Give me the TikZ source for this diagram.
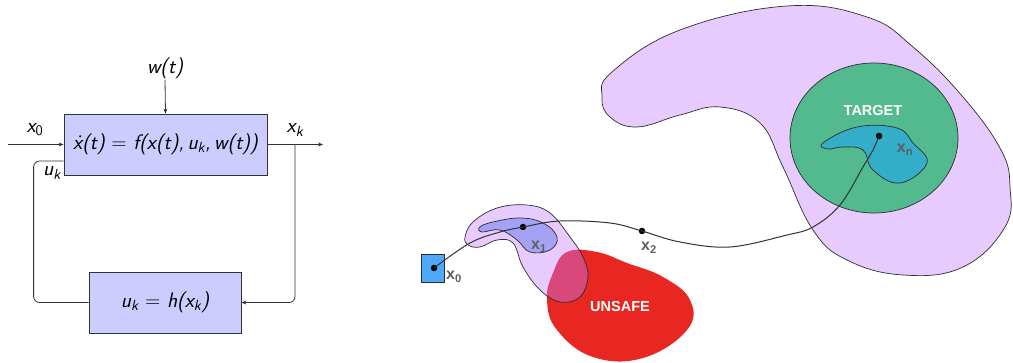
\documentclass[tikz,border=0pt]{standalone}
\usepackage{fontspec}
\newfontfamily\helv{Liberation Sans}
\usetikzlibrary{arrows.meta,calc}
\definecolor{boxfill}{RGB}{204,204,255}
\definecolor{wirec}{RGB}{50,50,50}
\definecolor{lav}{RGB}{195,125,255}
\definecolor{tgreen}{RGB}{82,186,142}
\definecolor{teal2}{RGB}{52,173,200}
\definecolor{ured}{RGB}{232,38,34}
\definecolor{sqblue}{RGB}{80,168,252}
\definecolor{innerblue}{RGB}{110,130,240}
\definecolor{labgray}{RGB}{95,95,95}
\definecolor{outl}{RGB}{45,45,45}
\newcommand\sub[1]{\textsubscript{#1}}
\begin{document}
\begin{tikzpicture}[x=1pt,y=-1pt,
  block/.style={draw=wirec, fill=boxfill, line width=0.8pt, minimum width=203pt, minimum height=61pt, inner sep=0pt, font=\sffamily\slshape\fontsize{21}{24}\selectfont},
  lbl/.style={inner sep=1pt, font=\sffamily\slshape\fontsize{21}{24}\selectfont},
  wire/.style={draw=wirec, line width=0.8pt},
  arr/.style={wire, -{Stealth[length=5pt,width=4pt]}},
  blob/.style={draw=outl, line width=0.7pt, fill=lav, fill opacity=0.4},
  shapeline/.style={draw=outl, line width=0.7pt},
  traj/.style={draw=wirec, line width=1pt},
  dot/.style={circle, fill=black, inner sep=0pt, minimum size=6.5pt},
  ptlab/.style={font=\helv\bfseries\fontsize{16}{16}\selectfont, text=labgray, inner sep=0pt},
  biglab/.style={font=\helv\bfseries\fontsize{14.5}{15}\selectfont, text=white, inner sep=0pt}
]
\useasboundingbox (0,0) rectangle (1013,363);

% ---------- left: block diagram ----------
\node[block] (fbox) at (165.5,144.5) {\.x(t) {\upshape=} f(x(t),\,u\sub{k},\,w(t))};
\node[block, minimum width=152pt] (hbox) at (165,302.5) {u\sub{k} {\upshape=} h(x\sub{k})};
\node[lbl] (wlbl) at (165,68) {w(t)};
\draw[arr] (wlbl.south) -- (fbox.north);
\node[lbl] (x0lbl) at (35,130) {x\sub{\upshape0}};
\coordinate (in) at (8,144.5);
\draw[arr] (in) -- (fbox.west);
\coordinate (out) at (323,144.5);
\draw[arr] (fbox.east) -- (out);
\node[lbl] (xklbl) at (295,130) {x\sub{k}};
\coordinate (split) at (295,144.5);
\draw[arr, rounded corners=6pt] (split) |- (hbox.east);
\coordinate (uin) at ([yshift=-16.5pt]fbox.west);
\draw[wire, rounded corners=6pt] (hbox.west) -| ([xshift=-30pt]uin) -- (uin);
\node[lbl] (uklbl) at (52,173) {u\sub{k}};

% ---------- right: reachability sketch ----------
\path[blob] plot[smooth cycle, tension=0.7] coordinates {(602,97) (612,72) (680,30) (787,6) (867,17) (913,47) (963,97) (1001,150) (1010,187) (1005,227) (963,267) (903,275) (847,260) (813,230) (783,167) (760,123) (720,107) (680,115) (637,127) (610,117)};
\draw[shapeline, fill=tgreen] (874,138) ellipse [x radius=84, y radius=75];
\draw[shapeline, fill=teal2] plot[smooth cycle, tension=0.7] coordinates {(823,143) (857,127) (897,128) (913,143) (927,163) (900,183) (873,170) (863,150) (843,147) (828,149)};
\node[biglab] (tgt) at (873,111) {TARGET};

\fill[ured] plot[smooth cycle, tension=0.7] coordinates {(567,252) (597,252) (627,263) (663,277) (690,300) (687,330) (643,358) (593,357) (557,330) (547,300) (553,273)};
\node[biglab] (uns) at (620,307) {UNSAFE};

\path[blob] plot[smooth cycle, tension=0.65] coordinates {(465,237) (473,222) (497,208) (527,205) (550,213) (570,237) (583,257) (588,277) (580,297) (560,302) (540,290) (523,267) (513,243) (497,240) (480,247) (468,245)};
\path[shapeline, fill=innerblue, fill opacity=0.55] plot[smooth cycle, tension=0.7] coordinates {(480,227) (493,222) (520,218) (543,223) (557,237) (550,250) (530,252) (517,240) (500,230) (482,232)};

\node[draw=outl, line width=0.7pt, fill=sqblue, minimum width=23pt, minimum height=28pt, inner sep=0pt] (sq) at (432.5,268) {};

\node[dot] (p0) at (434,268) {};
\node[dot] (p1) at (523,227) {};
\node[dot] (p2) at (642,231) {};
\node[dot] (pn) at (879,136) {};

\draw[traj] plot[smooth, tension=0.6] coordinates {(p0.center) (470,243) (500,232) (p1.center) (560,221) (610,223) (p2.center) (680,242) (730,247) (787,235) (813,227) (840,205) (863,167) (873,150) (pn.center)};

\node[ptlab] (l0) at (454,277) {x\textsubscript{0}};
\node[ptlab] (l1) at (539,247) {x\textsubscript{1}};
\node[ptlab] (l2) at (649,248) {x\textsubscript{2}};
\node[ptlab] (ln) at (905,150) {x\textsubscript{n}};
\end{tikzpicture}
\end{document}
